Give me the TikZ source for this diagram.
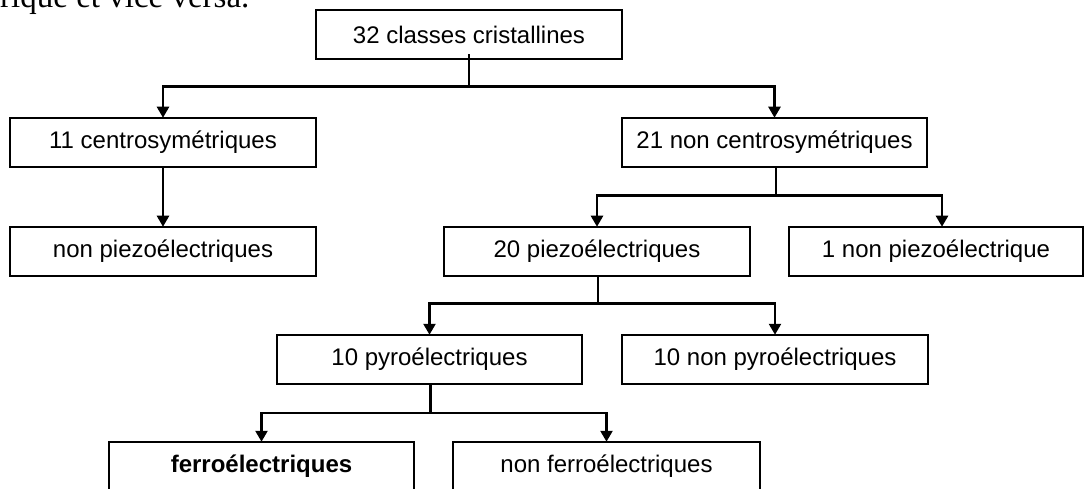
\documentclass[tikz,border=0pt]{standalone}
\usepackage{fontspec}
\setmainfont{Liberation Sans}
\newfontfamily\bodyserif{Liberation Serif}
\usetikzlibrary{arrows.meta,calc}
\begin{document}
\begin{tikzpicture}[x=1pt,y=1pt,
  cbox/.style={draw=black, line width=1.5pt, minimum height=49pt, inner sep=0pt,
    font=\fontsize{24}{28}\selectfont},
  conn/.style={line width=2.5pt, line cap=rect},
  arr/.style={conn, -{Triangle[width=12pt,length=11pt]}, shorten >=-0.5pt}]
\useasboundingbox (0,0) rectangle (1085,488);
\begin{scope}
\clip (0,0) rectangle (1085,488);
\node[anchor=base west, inner sep=0pt, font=\bodyserif\fontsize{33}{38}\selectfont] (prev) at (0,480.5) {rique et vice versa.};

\node[cbox, minimum width=306pt] (top) at (469,453.5) {32 classes cristallines};
\node[cbox, minimum width=306pt] (c11) at (163,345.5) {11 centrosymétriques};
\node[cbox, minimum width=305pt] (c21) at (774.5,345.5) {21 non centrosymétriques};
\node[cbox, minimum width=306pt] (np) at (163,236.5) {non piezoélectriques};
\node[cbox, minimum width=306pt] (p20) at (597,236.5) {20 piezoélectriques};
\node[cbox, minimum width=294pt] (np1) at (936,236.5) {1 non piezoélectrique};
\node[cbox, minimum width=305pt] (pyro) at (429.5,128.5) {10 pyroélectriques};
\node[cbox, minimum width=306pt] (npyro) at (775,128.5) {10 non pyroélectriques};
\node[cbox, minimum width=305pt] (ferro) at (261.5,21.5) {\bfseries ferroélectriques};
\node[cbox, minimum width=307pt] (nferro) at (606.5,21.5) {non ferroélectriques};

% junctions
\coordinate (j1) at ($(top.south)+(0,-27)$);
\coordinate (j2) at ($(c21.south)+(1.5,-28)$);
\coordinate (j3) at ($(p20.south)+(1,-27)$);
\coordinate (j4) at ($(pyro.south)+(1,-28)$);
\coordinate (np1in) at ($(np1.north)+(6,0)$);

\draw[conn] ($(top.south)+(0,4)$) -- (j1);
\draw[arr] (j1) -| (c11.north);
\draw[arr] (j1) -| (c21.north);

\draw[arr] (c11.south) -- (np.north);

\draw[conn] (c21.south -| j2) -- (j2);
\draw[arr] (j2) -| (p20.north);
\draw[arr] (j2) -| (np1in);

\draw[conn] (p20.south -| j3) -- (j3);
\draw[arr] (j3) -| (pyro.north);
\draw[arr] (j3) -| (npyro.north);

\draw[conn] (pyro.south -| j4) -- (j4);
\draw[arr] (j4) -| (ferro.north);
\draw[arr] (j4) -| (nferro.north);
\end{scope}
\end{tikzpicture}
\end{document}
